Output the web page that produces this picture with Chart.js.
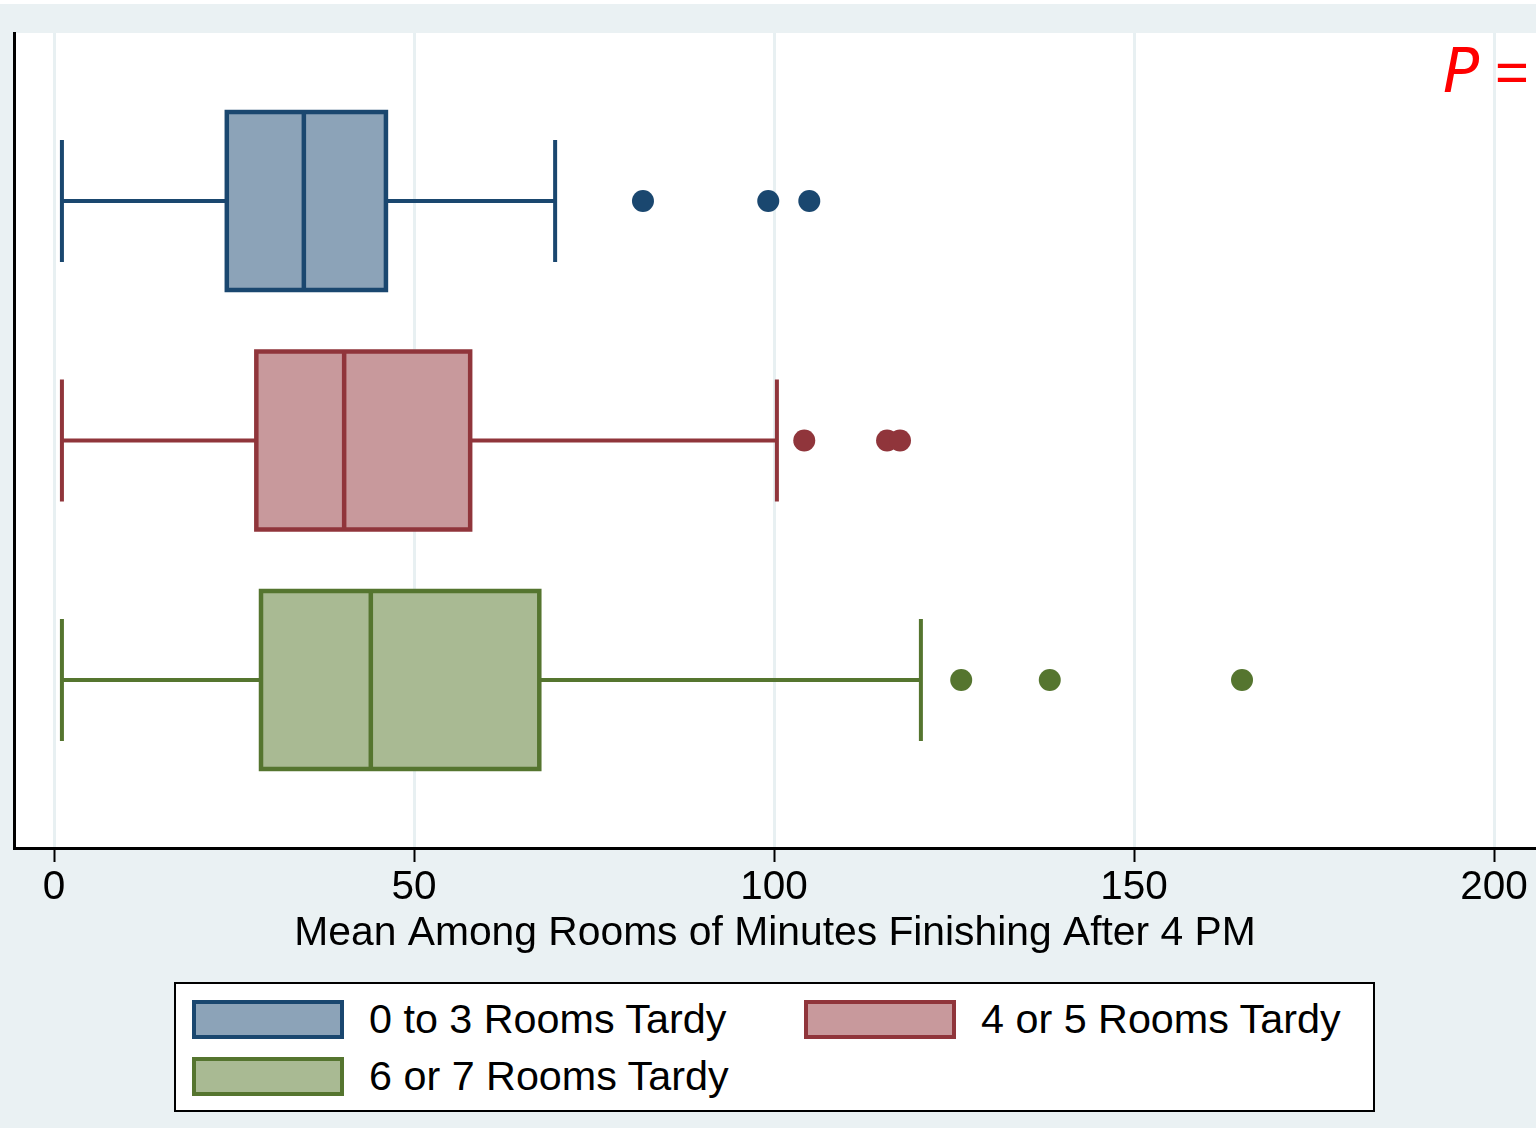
<!DOCTYPE html>
<html>
<head>
<meta charset="utf-8">
<script src="https://cdn.jsdelivr.net/npm/chart.js@4/dist/chart.umd.min.js"></script>
<style>
  html, body { margin: 0; padding: 0; background: #ffffff; }
  #wrap { position: relative; width: 1536px; height: 1128px; overflow: hidden; }
  #chart { position: absolute; left: 0; top: 0; }
  #legend {
    position: absolute; left: 174px; top: 982px; width: 1197px; height: 126px;
    border: 2px solid #000; background: #fff;
    font-family: "Liberation Sans", Arial, sans-serif; font-size: 41.3px; color: #000;
  }
  .item { position: absolute; height: 40px; }
  .sw { position: absolute; left: 0; top: 0; width: 144px; height: 31px; border: 4px solid; }
  .lbl { position: absolute; left: 177px; top: -4px; white-space: nowrap; line-height: 46px; }
</style>
</head>
<body>
<div id="wrap">
  <canvas id="chart" width="1536" height="1128"></canvas>
  <div id="legend"></div>
</div>
<script>
// Groups and their five-number summaries (minutes after 4 PM)
const categories  = ['0 to 3 Rooms Tardy', '4 or 5 Rooms Tardy', '6 or 7 Rooms Tardy'];
const whiskerLow  = [1.1, 1.1, 1.1];
const q1          = [24.0, 28.1, 28.75];
const median      = [34.7, 40.3, 44.0];
const q3          = [46.1, 57.8, 67.4];
const whiskerHigh = [69.6, 100.4, 120.4];
const outliers    = [
  [81.8, 99.2, 104.9],
  [104.2, 115.7, 117.5],
  [126.0, 138.3, 165.0]
];
const xTickValues = [0, 50, 100, 150, 200];
const xTitle = 'Mean Among Rooms of Minutes Finishing After 4 PM';
const annotation = 'P =';

const edgeColors = ['#1a476f', '#90353b', '#55752f'];
const fillColors = ['#8ca3b8', '#c8999c', '#a9ba93'];
const bgColor = '#eaf1f3';

const boxHalf = 0.3716;
const capHalf = 0.2547;

// Outliers as scatter points, one dataset per group
const datasets = categories.map((name, i) => ({
  label: name,
  data: outliers[i].map(v => ({ x: v, y: i })),
  backgroundColor: edgeColors[i],
  borderColor: edgeColors[i],
  pointRadius: 11,
  pointHoverRadius: 11,
  borderWidth: 0
}));

const backgroundPlugin = {
  id: 'bg',
  beforeDraw(chart) {
    const { ctx, chartArea: a } = chart;
    ctx.save();
    ctx.fillStyle = bgColor;
    ctx.fillRect(0, 4, chart.width, chart.height - 4);
    ctx.fillStyle = '#ffffff';
    ctx.fillRect(a.left, a.top, a.right - a.left, a.bottom - a.top);
    ctx.restore();
  }
};

// Boxes, medians and whiskers drawn through the chart's scales
const boxPlugin = {
  id: 'boxes',
  beforeDatasetsDraw(chart) {
    const { ctx, scales: { x, y } } = chart;
    ctx.save();
    categories.forEach((_, i) => {
      const yc = y.getPixelForValue(i);
      const yTop = y.getPixelForValue(i - boxHalf);
      const yBot = y.getPixelForValue(i + boxHalf);
      const cTop = y.getPixelForValue(i - capHalf);
      const cBot = y.getPixelForValue(i + capHalf);
      const xLo = x.getPixelForValue(whiskerLow[i]);
      const xQ1 = x.getPixelForValue(q1[i]);
      const xMed = x.getPixelForValue(median[i]);
      const xQ3 = x.getPixelForValue(q3[i]);
      const xHi = x.getPixelForValue(whiskerHigh[i]);
      ctx.strokeStyle = edgeColors[i];
      ctx.lineWidth = 4;
      ctx.beginPath();
      ctx.moveTo(xLo, yc); ctx.lineTo(xQ1, yc);
      ctx.moveTo(xQ3, yc); ctx.lineTo(xHi, yc);
      ctx.moveTo(xLo, cTop); ctx.lineTo(xLo, cBot);
      ctx.moveTo(xHi, cTop); ctx.lineTo(xHi, cBot);
      ctx.stroke();
      ctx.fillStyle = fillColors[i];
      ctx.fillRect(xQ1, yTop, xQ3 - xQ1, yBot - yTop);
      ctx.lineWidth = 4.5;
      ctx.strokeRect(xQ1, yTop, xQ3 - xQ1, yBot - yTop);
      ctx.beginPath();
      ctx.moveTo(xMed, yTop); ctx.lineTo(xMed, yBot);
      ctx.stroke();
    });
    ctx.restore();
  },
  afterDraw(chart) {
    const { ctx } = chart;
    ctx.save();
    ctx.fillStyle = '#ff0000';
    ctx.textBaseline = 'alphabetic';
    ctx.font = 'italic 60px "DejaVu Sans", sans-serif';
    ctx.fillText(annotation.charAt(0), 1443, 92);
    ctx.font = '58px "Liberation Sans", Arial, sans-serif';
    ctx.fillText(annotation.charAt(2), 1495, 92);
    ctx.restore();
  }
};

new Chart(document.getElementById('chart'), {
  type: 'scatter',
  data: { datasets },
  plugins: [backgroundPlugin, boxPlugin],
  options: {
    responsive: false,
    animation: false,
    events: [],
    layout: { autoPadding: false, padding: { top: 33, left: 14, right: 0, bottom: 172 } },
    plugins: { legend: { display: false }, tooltip: { enabled: false } },
    scales: {
      x: {
        type: 'linear',
        min: -5.556,
        max: 205.83,
        afterBuildTicks(scale) { scale.ticks = xTickValues.map(v => ({ value: v })); },
        afterFit(scale) { scale.height = 108; scale.paddingLeft = 0; scale.paddingRight = 0; },
        grid: { color: '#e8f0f2', lineWidth: 3, tickColor: '#000', tickWidth: 2, tickLength: 14 },
        border: { display: true, color: '#000', width: 3 },
        ticks: { color: '#000', padding: 2, font: { family: '"Liberation Sans", Arial, sans-serif', size: 40.5 } },
        title: { display: true, text: xTitle, color: '#000', padding: { top: 0, bottom: -2 },
                 font: { family: '"Liberation Sans", Arial, sans-serif', size: 40.8 } }
      },
      y: {
        type: 'linear',
        reverse: true,
        min: -0.7015,
        max: 2.7015,
        afterFit(scale) { scale.width = 0; scale.paddingTop = 0; scale.paddingBottom = 0; },
        grid: { display: false },
        border: { display: true, color: '#000', width: 3 },
        ticks: { display: false }
      }
    }
  }
});

// Legend: two columns, swatch plus label
const legend = document.getElementById('legend');
const slots = [{ l: 16, t: 16 }, { l: 628, t: 16 }, { l: 16, t: 73 }];
categories.forEach((name, i) => {
  const item = document.createElement('div');
  item.className = 'item';
  item.style.left = slots[i].l + 'px';
  item.style.top = slots[i].t + 'px';
  const sw = document.createElement('div');
  sw.className = 'sw';
  sw.style.background = fillColors[i];
  sw.style.borderColor = edgeColors[i];
  const lbl = document.createElement('div');
  lbl.className = 'lbl';
  lbl.textContent = name;
  item.appendChild(sw);
  item.appendChild(lbl);
  legend.appendChild(item);
});
</script>
</body>
</html>
